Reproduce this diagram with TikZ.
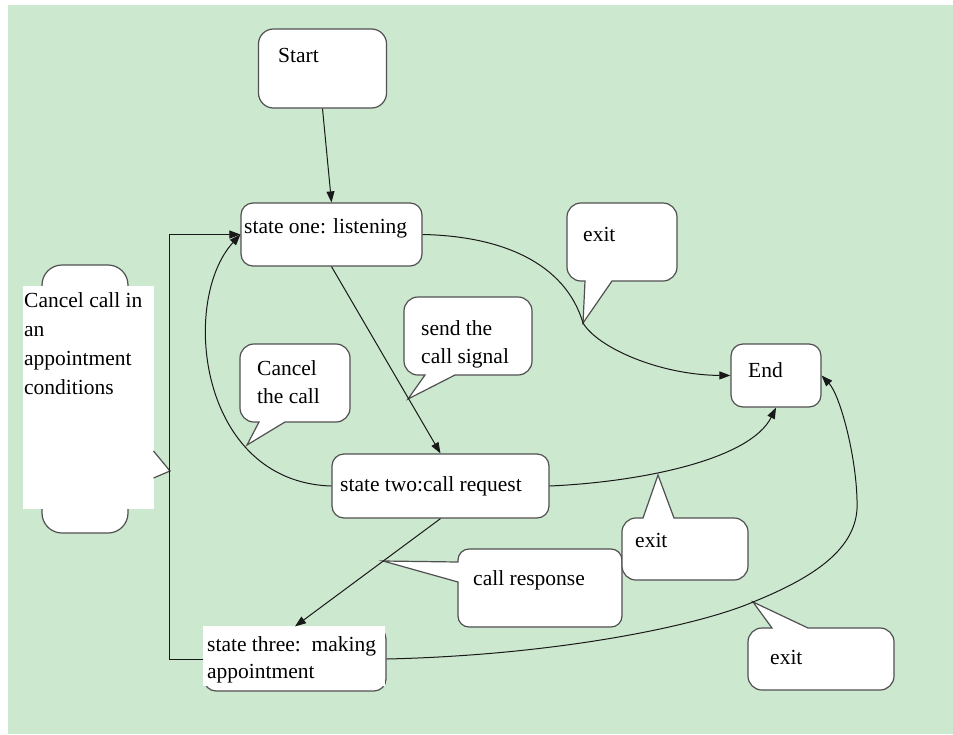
\documentclass[tikz,border=0pt]{standalone}
\usepackage{fontspec}
\setmainfont{Liberation Serif}
\newfontfamily\tnr{Liberation Serif}
\usetikzlibrary{arrows.meta}
\definecolor{bggreen}{RGB}{204,232,207}
\definecolor{bordergray}{RGB}{80,80,80}
\definecolor{linecol}{RGB}{25,25,25}
\begin{document}
\begin{tikzpicture}[x=1pt,y=-1pt,
  box/.style={draw=bordergray, line width=1.2pt, fill=white, rounded corners=12pt, inner sep=0pt},
  lbl/.style={anchor=base west, inner sep=0pt, font=\tnr\fontsize{21.5}{28}\selectfont},
  conn/.style={draw=linecol, line width=1pt},
  arr/.style={conn, -{Triangle[length=11pt,width=8pt]}},
  co/.style={draw=bordergray, line width=1.2pt, fill=white}]
\useasboundingbox (0,0) rectangle (953,734);
\fill[bggreen] (8,5) rectangle (953,734);

% state boxes
\node[box, rounded corners=15pt, minimum width=128pt, minimum height=79pt] (start) at (322.5,68.5) {};
\node[box, minimum width=181pt, minimum height=63pt] (s1) at (331.5,234.5) {};
\node[box, minimum width=217pt, minimum height=64pt] (s2) at (440.5,486) {};
\node[box, minimum width=182pt, minimum height=64pt] (s3) at (295,659) {};
\fill[white] (203.2,626) rectangle (384.6,686);
\node[box, minimum width=90pt, minimum height=63pt] (end) at (776,375.5) {};

% callout: Cancel call in an appointment conditions
\path[co, rounded corners=20pt] (42,265) rectangle (128,533);
\fill[white] (23,286) rectangle (154,509);
\path[co] (153.5,451) -- (170,471) -- (153.5,478);

% callout: Cancel the call
\path[co] (295,344) [rounded corners=14pt] -- (240,344) -- (240,422) [sharp corners] -- (259,422) -- (247,445) -- (285,422) [rounded corners=14pt] -- (350,422) -- (350,344) -- cycle;
% callout: send the call signal
\path[co] (468,297) [rounded corners=14pt] -- (404,297) -- (404,375) [sharp corners] -- (425,375) -- (408,399) -- (455,375) [rounded corners=14pt] -- (532,375) -- (532,297) -- cycle;
% callout: exit (top)
\path[co] (622,203) [rounded corners=14pt] -- (567,203) -- (567,281) [sharp corners] -- (585,281) -- (583,323) -- (612,281) [rounded corners=14pt] -- (677,281) -- (677,203) -- cycle;
% callout: call response
\path[co] (622,588) [rounded corners=11pt] -- (622,627) -- (458,627) [sharp corners] -- (458,582) -- (383,561) -- (458,562) [rounded corners=11pt] -- (458,549) -- (622,549) -- cycle;
% callout: exit (middle)
\path[co] (685,580) [rounded corners=14pt] -- (748,580) -- (748,518) [sharp corners] -- (674,518) -- (658,475) -- (643,518) [rounded corners=14pt] -- (622,518) -- (622,580) -- cycle;
% callout: exit (bottom)
\path[co] (821,690) [rounded corners=14pt] -- (894,690) -- (894,628) [sharp corners] -- (808,628) -- (753,602) -- (772,628) [rounded corners=14pt] -- (748,628) -- (748,690) -- cycle;

% texts
\node[lbl] (tstart) at (278,62) {Start};
\node[lbl] (ts1) at (244,233) {state one: listening};
\node[lbl] (ts2) at (340,491) {state two:call request};
\node[lbl] (ts3a) at (207,651) {state three:\ \ making};
\node[lbl] (ts3b) at (207,678) {appointment};
\node[lbl] (tend) at (748,377) {End};
\node[lbl] (tc1) at (24,307) {Cancel call in};
\node[lbl] (tc2) at (24,336) {an};
\node[lbl] (tc3) at (24,365) {appointment};
\node[lbl] (tc4) at (24,394) {conditions};
\node[lbl] (tcc1) at (257,375) {Cancel};
\node[lbl] (tcc2) at (257,403) {the call};
\node[lbl] (tsend1) at (421,335) {send the};
\node[lbl] (tsend2) at (421,363) {call signal};
\node[lbl] (texit1) at (583,241) {exit};
\node[lbl] (tresp) at (473,585) {call response};
\node[lbl] (texit2) at (635,547) {exit};
\node[lbl] (texit3) at (770,664) {exit};

% connectors
\coordinate (p1) at (583,323);
\coordinate (p3) at (753,602);
\coordinate (p4) at (857,500);
\coordinate (lc) at (169,659);
\draw[arr] (start.south) -- (s1.north);
\draw[arr] (s1.south) -- (s2.north);
\draw[arr] (s2.south) -- (s3.north);
\draw[arr] (s1.east) .. controls (500,236) and (565,262) .. (p1) .. controls (598,348) and (660,375) .. (end.west);
\draw[arr] (s2.west) .. controls (198,482) and (180,300) .. (s1.west);
\draw[arr] (s2.east) .. controls (640,482) and (750,460) .. (end.south);
\draw[arr] (s3.east) .. controls (560,655) and (700,625) .. (p3) .. controls (820,575) and (860,545) .. (p4) .. controls (856,455) and (840,395) .. (end.east);
\draw[arr] (s3.west) -- (lc) |- (s1.west);
\end{tikzpicture}
\end{document}
